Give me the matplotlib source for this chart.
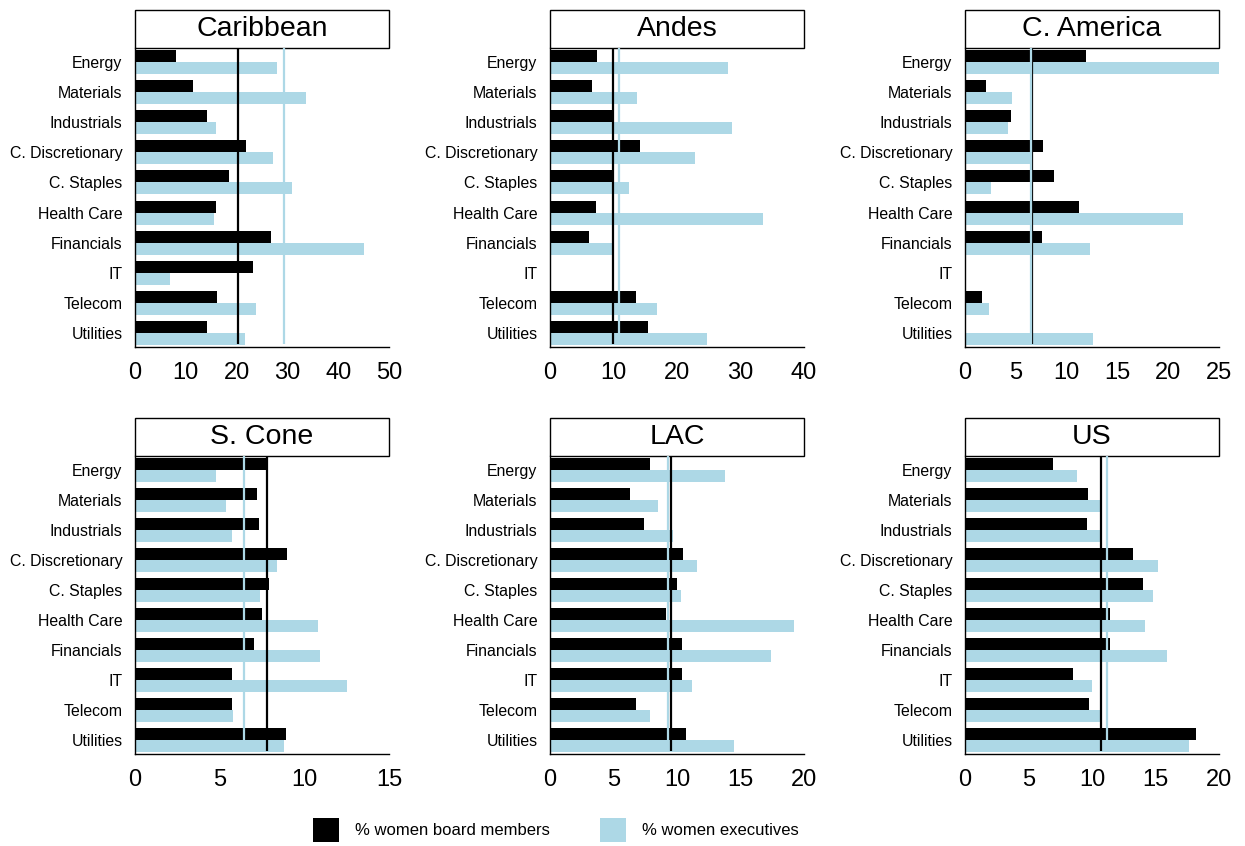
import numpy as np
import matplotlib
matplotlib.use("Agg")
import matplotlib.pyplot as plt
from matplotlib.patches import Patch, Rectangle

plt.rcParams["font.family"] = ["Liberation Sans", "DejaVu Sans"]

sectors = ["Energy", "Materials", "Industrials", "C. Discretionary", "C. Staples",
           "Health Care", "Financials", "IT", "Telecom", "Utilities"]

regions = ["Caribbean", "Andes", "C. America", "S. Cone", "LAC", "US"]

# % women board members per sector (0 = no data)
board_caribbean = [8.0, 11.5, 14.2, 21.8, 18.6, 15.9, 26.8, 23.3, 16.2, 14.1]
board_andes     = [7.4, 6.6, 9.8, 14.2, 10.0, 7.2, 6.2, 0, 13.5, 15.5]
board_camerica  = [11.9, 2.1, 4.5, 7.7, 8.8, 11.2, 7.6, 0, 1.7, 0]
board_scone     = [7.8, 7.2, 7.3, 9.0, 7.9, 7.5, 7.0, 5.7, 5.7, 8.9]
board_lac       = [7.9, 6.3, 7.4, 10.5, 10.0, 9.1, 10.4, 10.4, 6.8, 10.7]
board_us        = [6.9, 9.7, 9.6, 13.2, 14.0, 11.4, 11.4, 8.5, 9.8, 18.2]

# % women executives per sector (0 = no data)
exec_caribbean = [28.0, 33.6, 15.9, 27.2, 30.9, 15.5, 45.1, 6.8, 23.8, 21.6]
exec_andes     = [28.1, 13.7, 28.6, 22.8, 12.4, 33.5, 10.0, 0, 16.8, 24.7]
exec_camerica  = [25.0, 4.6, 4.2, 6.7, 2.6, 21.5, 12.3, 0, 2.4, 12.6]
exec_scone     = [4.8, 5.4, 5.7, 8.4, 7.4, 10.8, 10.9, 12.5, 5.8, 8.8]
exec_lac       = [13.8, 8.5, 9.7, 11.6, 10.3, 19.2, 17.4, 11.2, 7.9, 14.5]
exec_us        = [8.8, 10.6, 10.8, 15.2, 14.8, 14.2, 15.9, 10.0, 10.6, 17.6]

# overall averages (vertical reference lines)
board_avg = [20.2, 9.9, 6.6, 7.8, 9.55, 10.7]
exec_avg  = [29.3, 10.8, 6.45, 6.45, 9.3, 11.2]

x_max   = [50, 40, 25, 15, 20, 20]
x_ticks = [[0, 10, 20, 30, 40, 50], [0, 10, 20, 30, 40], [0, 5, 10, 15, 20, 25],
           [0, 5, 10, 15], [0, 5, 10, 15, 20], [0, 5, 10, 15, 20]]

board = [board_caribbean, board_andes, board_camerica, board_scone, board_lac, board_us]
execs = [exec_caribbean, exec_andes, exec_camerica, exec_scone, exec_lac, exec_us]

BLUE = "#ADD8E6"

fig = plt.figure(figsize=(12.45, 8.46), dpi=100)

lefts   = [135, 550, 965]
tops    = [48, 456]
heights = [299, 298]
width   = 254
W, H = 1245, 846

y = np.arange(len(sectors))
for i, name in enumerate(regions):
    r, c = divmod(i, 3)
    ax = fig.add_axes([lefts[c] / W, 1 - (tops[r] + heights[r]) / H,
                       width / W, heights[r] / H])
    ax.barh(y - 0.2, board[i], height=0.4, color="black", zorder=2)
    ax.barh(y + 0.2, execs[i], height=0.4, color=BLUE, zorder=2)
    ax.vlines(board_avg[i], -0.48, 9.38, color="black", lw=1.6, zorder=3)
    ax.vlines(exec_avg[i], -0.48, 9.38, color=BLUE, lw=1.6, zorder=3)

    ax.set_xlim(0, x_max[i])
    ax.set_ylim(9.48, -0.48)
    ax.set_xticks(x_ticks[i])
    ax.set_yticks(y)
    ax.set_yticklabels(sectors)
    ax.tick_params(axis="x", length=0, pad=11, labelsize=17)
    ax.tick_params(axis="y", length=0, pad=9, labelsize=11.4)
    for s in ["top", "right"]:
        ax.spines[s].set_visible(False)
    for s in ["left", "bottom"]:
        ax.spines[s].set_linewidth(1.0)

    # title box above the plot area
    box_h = 38 / heights[r]
    ax.add_patch(Rectangle((0, 1), 1, box_h, transform=ax.transAxes,
                           facecolor="white", edgecolor="black", lw=1.0,
                           clip_on=False))
    ax.text(0.5, 1 + box_h / 2, name, transform=ax.transAxes,
            ha="center", va="center", fontsize=20.5)

handles = [Patch(facecolor="black", label="% women board members"),
           Patch(facecolor=BLUE, label="% women executives")]
fig.legend(handles=handles, loc="center", bbox_to_anchor=(0.4466, 0.019),
           ncol=2, frameon=False, fontsize=12, handlelength=1.56,
           handleheight=1.8, handletextpad=0.96, columnspacing=3.05,
           borderpad=0)

fig.savefig("out.png", dpi=100)
